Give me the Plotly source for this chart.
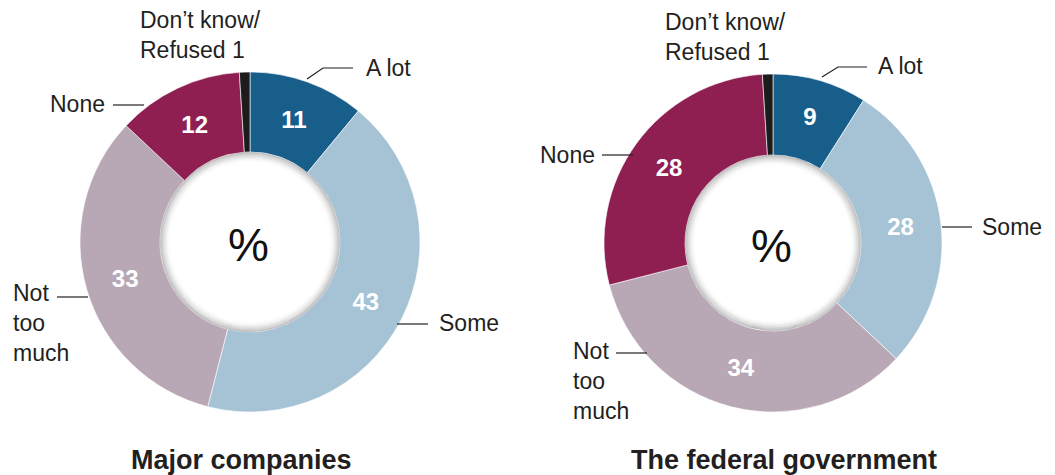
import plotly.graph_objects as go

# Survey responses (%), clockwise from 12 o'clock
categories = ["A lot", "Some", "Not too much", "None", "Don\u2019t know/Refused"]
companies_vals = [11, 43, 33, 12, 1]
government_vals = [9, 28, 34, 28, 1]
titles = ["Major companies", "The federal government"]

colors = ["#185e8b", "#a6c2d5", "#b8a7b5", "#8f1e51", "#1c1c1c"]

W, H = 1055, 475
FONT = "Liberation Sans"

# pixel geometry of each ring: centre x, centre y, outer radius, hole radius
rings = [
    dict(cx=250, cy=242, R=170, r=90),
    dict(cx=773, cy=243, R=169, r=88),
]


def px(x):
    return x / W


def py(y):
    return 1 - y / H


fig = go.Figure()

for vals, g in zip([companies_vals, government_vals], rings):
    labels_text = [str(v) for v in vals[:-1]] + [""]
    fig.add_trace(go.Pie(
        labels=categories,
        values=vals,
        sort=False,
        direction="clockwise",
        rotation=0,
        hole=g["r"] / g["R"],
        marker=dict(colors=colors, line=dict(color="white", width=0.6)),
        text=labels_text,
        textinfo="text",
        textposition="inside",
        insidetextorientation="horizontal",
        textfont=dict(family=FONT, size=24, color="white", weight="bold"),
        hoverinfo="label+value",
        showlegend=False,
        domain=dict(
            x=[px(g["cx"] - g["R"]), px(g["cx"] + g["R"])],
            y=[py(g["cy"] + g["R"]), py(g["cy"] - g["R"])],
        ),
    ))

annotations = []
shapes = []


def label(x, y, text, anchor="left", size=23, bold=False, color="#231f20"):
    annotations.append(dict(
        x=px(x), y=py(y), xref="paper", yref="paper", text=text,
        showarrow=False, xanchor=anchor, yanchor="middle", align="left",
        font=dict(family=FONT, size=size, color=color,
                  weight="bold" if bold else "normal"),
    ))


def leader(points):
    path = "M " + " L ".join(f"{px(x)},{py(y)}" for x, y in points)
    shapes.append(dict(type="path", xref="paper", yref="paper", path=path,
                       line=dict(color="#231f20", width=1.2)))


# inner shadow of each hole and the centre "%"
for g in rings:
    for k in range(11):
        rr = g["r"] - 0.6 - k * 1.0
        a = 0.22 * (1 - k / 11) ** 2
        shapes.append(dict(
            type="circle", xref="paper", yref="paper",
            x0=px(g["cx"] - rr), x1=px(g["cx"] + rr),
            y0=py(g["cy"] + rr), y1=py(g["cy"] - rr),
            line=dict(color=f"rgba(0,0,0,{a:.3f})", width=1.2),
        ))
    label(g["cx"] - 2, g["cy"] + 3, "%", anchor="center", size=46,
          color="#111111")

# left ring labels
dk_left = companies_vals[-1]
label(138, 35, f"Don\u2019t know/<br>Refused {dk_left}")
label(364, 68, categories[0])
leader([(307, 79), (323, 68), (353, 68)])
label(48, 104, categories[3])
leader([(113, 105), (144, 105)])
label(11, 323, "Not<br>too<br>much")
leader([(57, 297), (88, 297)])
label(437, 323, categories[1])
leader([(397, 324), (428, 324)])
label(241, 460, titles[0], anchor="center", size=27, bold=True)

# right ring labels
dk_right = government_vals[-1]
label(663, 37, f"Don\u2019t know/<br>Refused {dk_right}")
label(876, 66, categories[0])
leader([(822, 77), (838, 67), (867, 67)])
label(538, 155, categories[3])
leader([(602, 155), (633, 155)])
label(571, 381, "Not<br>too<br>much")
leader([(616, 353), (647, 353)])
label(980, 227, categories[1])
leader([(942, 227), (972, 227)])
label(784, 460, titles[1], anchor="center", size=27, bold=True)

fig.update_layout(
    width=W, height=H,
    margin=dict(l=0, r=0, t=0, b=0),
    paper_bgcolor="white",
    plot_bgcolor="white",
    annotations=annotations,
    shapes=shapes,
)

fig.write_html("out.html")
